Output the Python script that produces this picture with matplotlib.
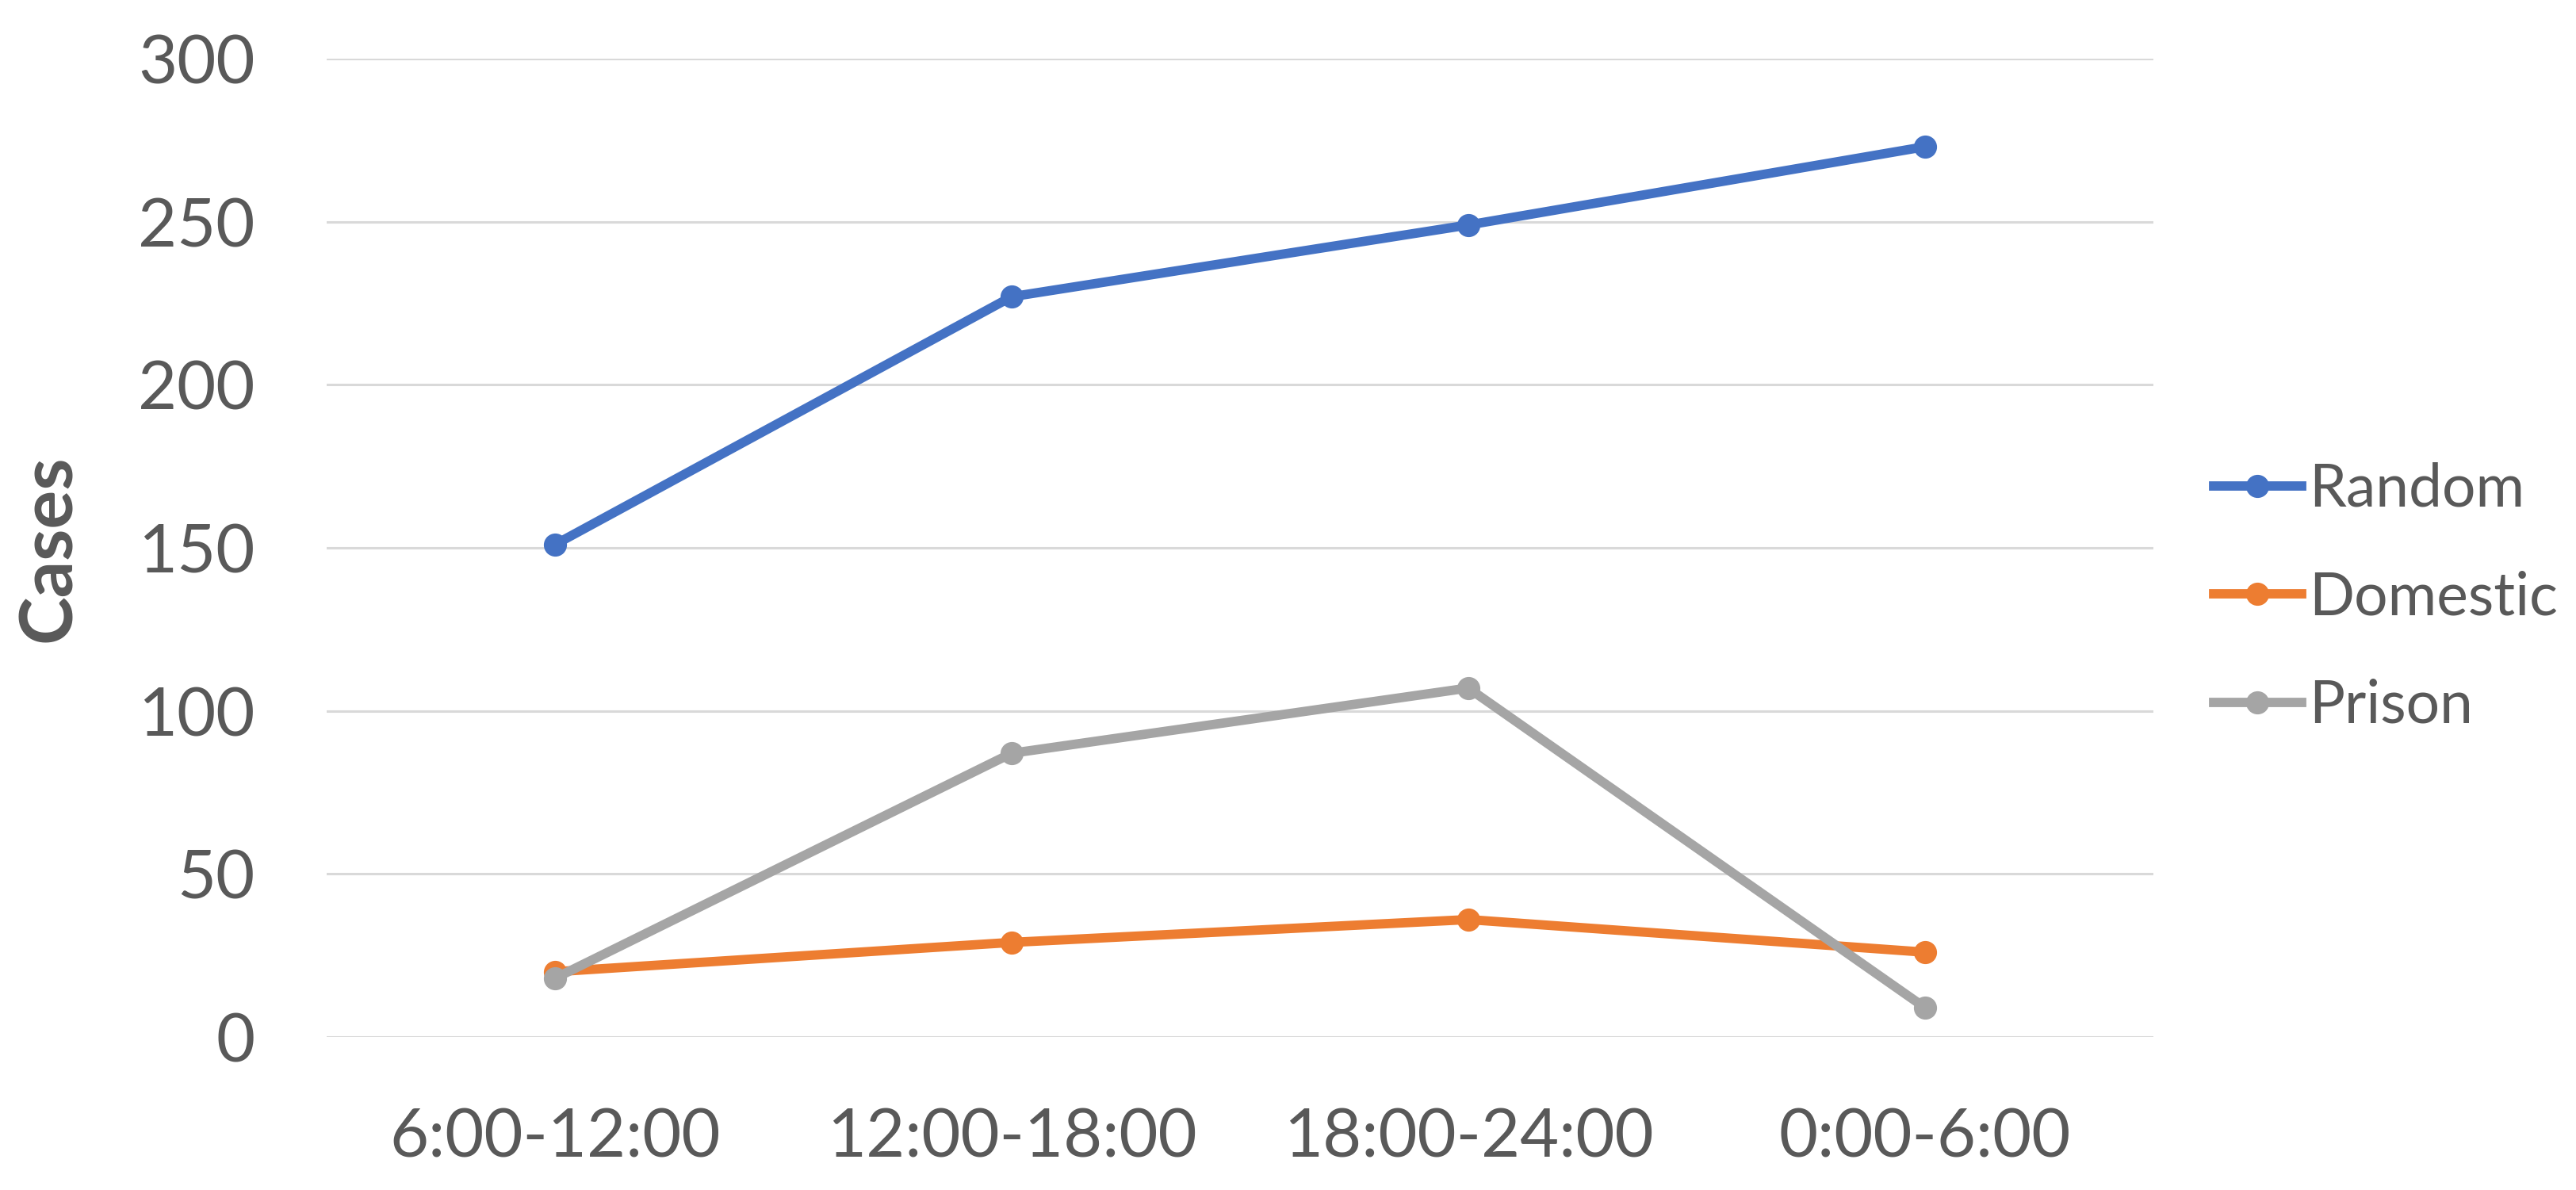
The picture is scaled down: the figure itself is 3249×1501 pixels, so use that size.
import matplotlib.pyplot as plt
import numpy as np

# data
periods = ["6:00-12:00", "12:00-18:00", "18:00-24:00", "0:00-6:00"]
random_cases = [151, 227, 249, 273]
domestic_cases = [20, 29, 36, 26]
prison_cases = [18, 87, 107, 9]
yticks = [0, 50, 100, 150, 200, 250, 300]

txt = "#595959"
plt.rcParams['font.family'] = ['Lato', 'DejaVu Sans']

fig = plt.figure(figsize=(32.49, 15.01), dpi=100)
ax = fig.add_axes([0.1268, 0.1286, 0.7091, 0.8221])

x = np.arange(len(periods))
ax.plot(x, random_cases, color="#4472C4", lw=8.5, marker="o", ms=20, label="Random", zorder=3)
ax.plot(x, domestic_cases, color="#ED7D31", lw=8.5, marker="o", ms=20, label="Domestic", zorder=3)
ax.plot(x, prison_cases, color="#A5A5A5", lw=8.5, marker="o", ms=20, label="Prison", zorder=3)

ax.set_xlim(-0.5, len(periods) - 0.5)
ax.set_ylim(0, 300)
ax.set_yticks(yticks)
ax.set_xticks(x)
ax.set_xticklabels(periods)
ax.grid(axis="y", color="#D9D9D9", lw=2.2)
ax.set_axisbelow(True)
ax.tick_params(axis="both", length=0, labelsize=61, colors=txt)
ax.tick_params(axis="y", pad=65)
ax.tick_params(axis="x", pad=64)
for s in ax.spines.values():
    s.set_visible(False)

fig.text(0.0194, 0.539, "Cases", rotation=90, ha="center", va="center",
         fontsize=66, fontweight="bold", color=txt)

leg = ax.legend(loc="center left", bbox_to_anchor=(0.8593, 0.4977),
                bbox_transform=fig.transFigure, frameon=False, fontsize=54,
                handlelength=1.48, handletextpad=0.12, labelspacing=0.9,
                borderpad=0, borderaxespad=0)
for t in leg.get_texts():
    t.set_color(txt)

fig.savefig("out.png", dpi=100)
